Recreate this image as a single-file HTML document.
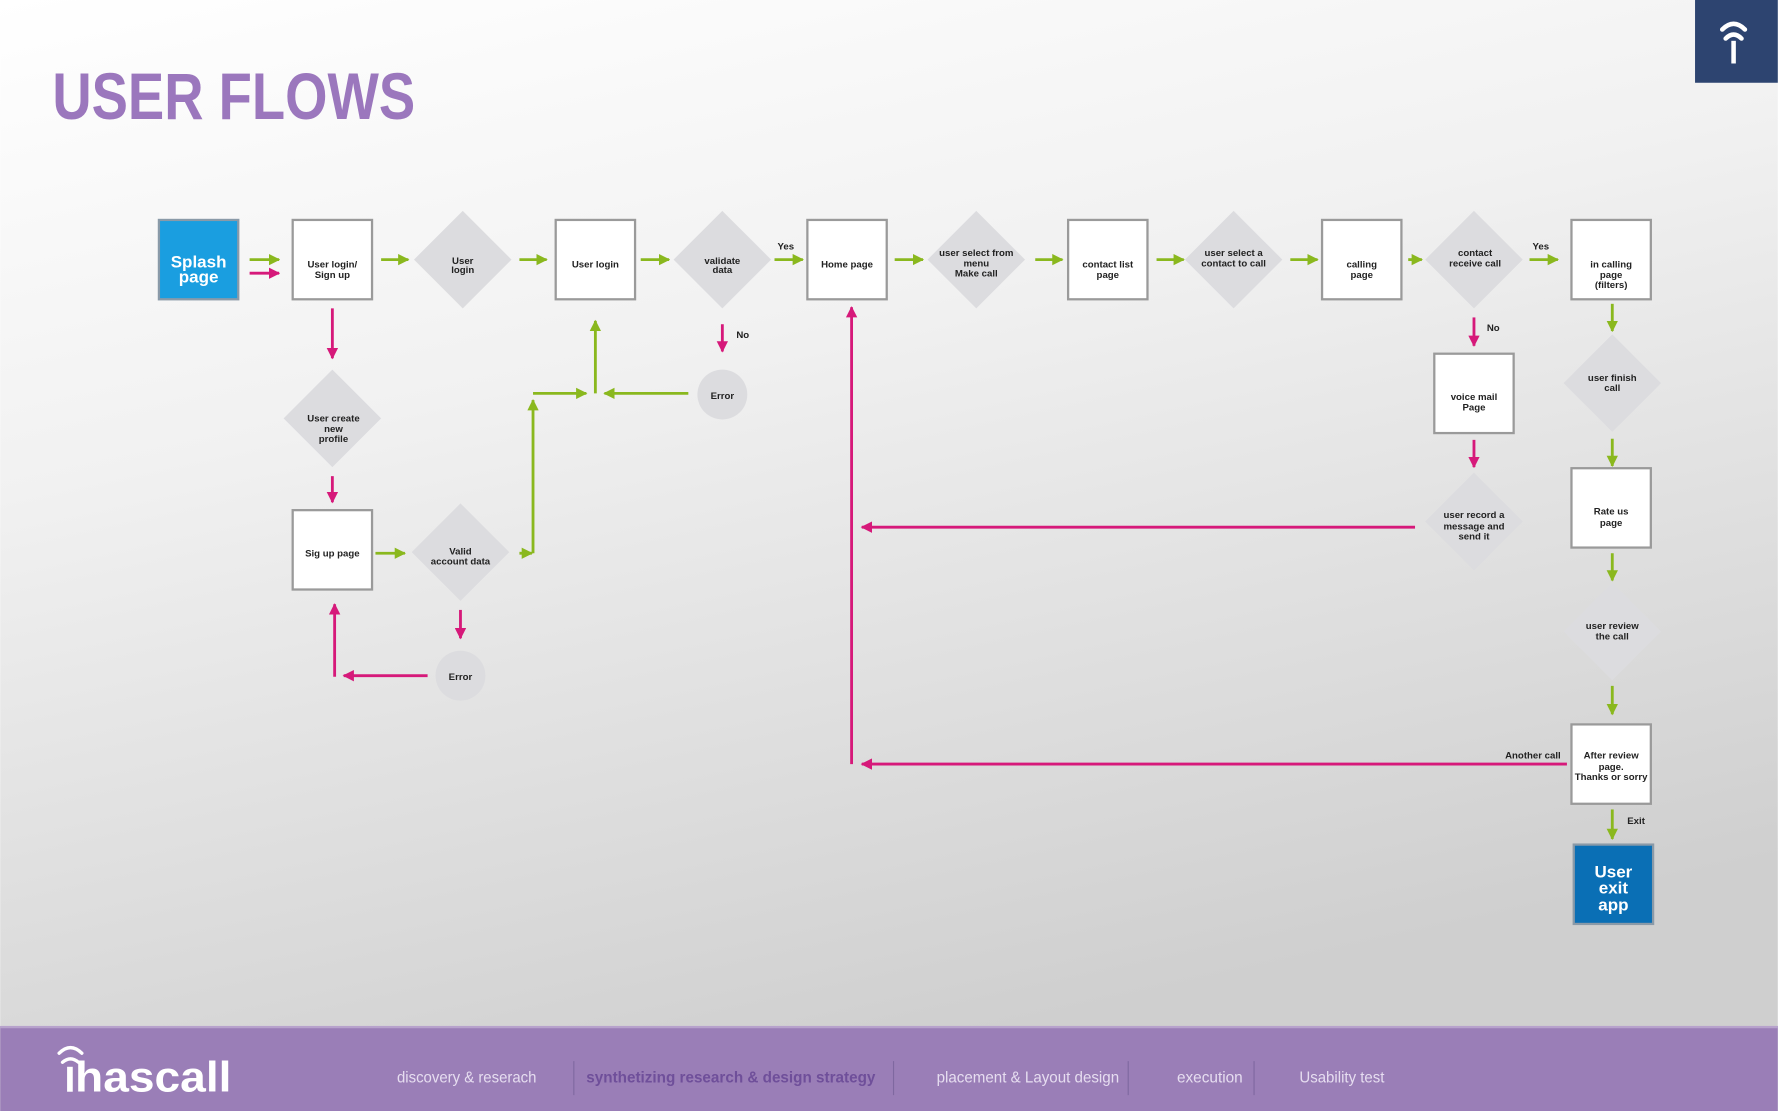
<!DOCTYPE html>
<html><head><meta charset="utf-8"><style>
html,body{margin:0;padding:0;width:1778px;height:1111px;overflow:hidden}
svg{display:block}
text{font-family:"Liberation Sans",sans-serif}
</style></head><body>
<svg width="1778" height="1111" viewBox="0 0 1568 980" xmlns="http://www.w3.org/2000/svg">
<defs>
<linearGradient id="bg" x1="0" y1="0" x2="0.35" y2="1">
<stop offset="0" stop-color="#ffffff"/><stop offset="0.4" stop-color="#f1f1f1"/><stop offset="1" stop-color="#cfcfcf"/>
</linearGradient>
<marker id="g" viewBox="0 0 10 10" refX="9" refY="5" markerWidth="4" markerHeight="4" orient="auto"><path d="M0,0L10,5L0,10z" fill="#8ab81e"/></marker>
<marker id="p" viewBox="0 0 10 10" refX="9" refY="5" markerWidth="4" markerHeight="4" orient="auto"><path d="M0,0L10,5L0,10z" fill="#d6197a"/></marker>
</defs>
<rect width="1568" height="980" fill="url(#bg)"/>
<text x="46" y="105" font-size="58" font-weight="bold" fill="#9b77bd" textLength="320" lengthAdjust="spacingAndGlyphs">USER FLOWS</text>
<rect x="1495" y="0" width="73" height="73" fill="#2d4470"/>
<g fill="none" stroke="#fff" stroke-width="4" stroke-linecap="round">
<path d="M1519,26 Q1529,16 1539,26"/><path d="M1522,34 Q1529,27 1536,34"/>
</g>
<rect x="1527" y="36" width="4" height="20" fill="#fff"/>

<!-- connectors -->
<g stroke-width="2.5" fill="none">
<g stroke="#8ab81e" marker-end="url(#g)">
<line x1="220" y1="229" x2="246" y2="229"/><line x1="336" y1="229" x2="360" y2="229"/>
<line x1="458" y1="229" x2="482" y2="229"/><line x1="565" y1="229" x2="590" y2="229"/>
<line x1="683" y1="229" x2="708" y2="229"/><line x1="789" y1="229" x2="814" y2="229"/>
<line x1="913" y1="229" x2="937" y2="229"/><line x1="1020" y1="229" x2="1044" y2="229"/>
<line x1="1138" y1="229" x2="1162" y2="229"/><line x1="1242" y1="229" x2="1254" y2="229"/>
<line x1="1349" y1="229" x2="1374" y2="229"/>
<line x1="1422" y1="268" x2="1422" y2="292"/><line x1="1422" y1="387" x2="1422" y2="411"/>
<line x1="1422" y1="488" x2="1422" y2="512"/><line x1="1422" y1="605" x2="1422" y2="630"/>
<line x1="1422" y1="714" x2="1422" y2="740"/>
<line x1="331" y1="488" x2="357" y2="488"/><line x1="458" y1="488" x2="469" y2="488"/>
<line x1="470" y1="488" x2="470" y2="353"/><line x1="470" y1="347" x2="517" y2="347"/>
<line x1="525" y1="347" x2="525" y2="283"/><line x1="607" y1="347" x2="533" y2="347"/>
</g>
<g stroke="#d6197a" marker-end="url(#p)">
<line x1="220" y1="241" x2="246" y2="241"/>
<line x1="293" y1="272" x2="293" y2="316"/><line x1="293" y1="420" x2="293" y2="443"/>
<line x1="637" y1="286" x2="637" y2="310"/><line x1="406" y1="538" x2="406" y2="563"/>
<line x1="1300" y1="280" x2="1300" y2="305"/><line x1="1300" y1="388" x2="1300" y2="412"/>
<line x1="377" y1="596" x2="303" y2="596"/><line x1="295" y1="597" x2="295" y2="533"/>
<line x1="1248" y1="465" x2="760" y2="465"/><line x1="1382" y1="674" x2="760" y2="674"/>
<line x1="751" y1="674" x2="751" y2="271"/>
</g>
</g>

<!-- boxes -->
<g fill="#fff" stroke="#9a9a9a" stroke-width="2">
<rect x="258" y="194" width="70" height="70"/><rect x="490" y="194" width="70" height="70"/>
<rect x="712" y="194" width="70" height="70"/><rect x="942" y="194" width="70" height="70"/>
<rect x="1166" y="194" width="70" height="70"/><rect x="1386" y="194" width="70" height="70"/>
<rect x="1265" y="312" width="70" height="70"/><rect x="1386" y="413" width="70" height="70"/>
<rect x="1386" y="639" width="70" height="70"/><rect x="258" y="450" width="70" height="70"/>
</g>
<rect x="140" y="194" width="70" height="70" fill="#1a9ee0" stroke="#8a9aa8" stroke-width="2"/>
<rect x="1388" y="745" width="70" height="70" fill="#0a6fb5" stroke="#8a9aa8" stroke-width="2"/>

<!-- diamonds -->
<g fill="#dcdcdf">
<path d="M408,186L451,229L408,272L365,229z"/><path d="M637,186L680,229L637,272L594,229z"/>
<path d="M861,186L904,229L861,272L818,229z"/><path d="M1088,186L1131,229L1088,272L1045,229z"/>
<path d="M1300,186L1343,229L1300,272L1257,229z"/><path d="M293,326L336,369L293,412L250,369z"/>
<path d="M406,444L449,487L406,530L363,487z"/><path d="M1422,295L1465,338L1422,381L1379,338z"/>
<path d="M1300,417L1343,460L1300,503L1257,460z"/><path d="M1422,514L1465,557L1422,600L1379,557z"/>
</g>
<circle cx="637" cy="348" r="22" fill="#dcdcdf"/><circle cx="406" cy="596" r="22" fill="#dcdcdf"/>

<!-- labels -->
<g font-size="8.5" font-weight="bold" fill="#222" text-anchor="middle">
<text x="175" y="236" font-size="15" fill="#fff">Splash</text><text x="175" y="249" font-size="15" fill="#fff">page</text>
<text x="293" y="236">User login/</text><text x="293" y="245">Sign up</text>
<text x="408" y="233">User</text><text x="408" y="241">login</text>
<text x="525" y="236">User login</text>
<text x="637" y="233">validate</text><text x="637" y="241">data</text>
<text x="747" y="236">Home page</text>
<text x="861" y="226">user select from</text><text x="861" y="235">menu</text><text x="861" y="244">Make call</text>
<text x="977" y="236">contact list</text><text x="977" y="245">page</text>
<text x="1088" y="226">user select a</text><text x="1088" y="235">contact to call</text>
<text x="1201" y="236">calling</text><text x="1201" y="245">page</text>
<text x="1301" y="226">contact</text><text x="1301" y="235">receive call</text>
<text x="1421" y="236">in calling</text><text x="1421" y="245">page</text><text x="1421" y="254">(filters)</text>
<text x="1300" y="353">voice mail</text><text x="1300" y="362">Page</text>
<text x="1422" y="336">user finish</text><text x="1422" y="345">call</text>
<text x="1300" y="457">user record a</text><text x="1300" y="467">message and</text><text x="1300" y="476">send it</text>
<text x="1421" y="454">Rate us</text><text x="1421" y="464">page</text>
<text x="1422" y="555">user review</text><text x="1422" y="564">the call</text>
<text x="1421" y="669">After review</text><text x="1421" y="679">page.</text><text x="1421" y="688">Thanks or sorry</text>
<text x="1423" y="774" font-size="15" fill="#fff">User</text><text x="1423" y="788" font-size="15" fill="#fff">exit</text><text x="1423" y="803" font-size="15" fill="#fff">app</text>
<text x="294" y="372">User create</text><text x="294" y="381">new</text><text x="294" y="390">profile</text>
<text x="293" y="491">Sig up page</text>
<text x="406" y="489">Valid</text><text x="406" y="498">account data</text>
<text x="637" y="352">Error</text><text x="406" y="600">Error</text>
<text x="693" y="220">Yes</text><text x="655" y="298">No</text><text x="1317" y="292">No</text>
<text x="1359" y="220">Yes</text><text x="1352" y="669">Another call</text><text x="1443" y="727">Exit</text>
</g>

<!-- footer -->
<rect x="0" y="905" width="1568" height="75" fill="#9a7eb7"/>
<rect x="0" y="905" width="1568" height="2" fill="#b7a2cc"/>
<g fill="none" stroke="#fff" stroke-width="3" stroke-linecap="round">
<path d="M52,929 Q62,919 72,929"/><path d="M55,937 Q62,931 69,937"/>
</g>
<rect x="59" y="941" width="5" height="22" fill="#fff"/>
<text x="66" y="963" font-size="38" font-weight="bold" fill="#fff" textLength="138" lengthAdjust="spacingAndGlyphs">hascall</text>
<g font-size="14" fill="#e6ddf0">
<text x="350" y="955" textLength="123" lengthAdjust="spacingAndGlyphs">discovery &amp; reserach</text>
<text x="517" y="955" fill="#6f4f9a" font-weight="bold" textLength="255" lengthAdjust="spacingAndGlyphs">synthetizing research &amp; design strategy</text>
<text x="826" y="955" textLength="161" lengthAdjust="spacingAndGlyphs">placement &amp; Layout design</text>
<text x="1038" y="955" textLength="58" lengthAdjust="spacingAndGlyphs">execution</text>
<text x="1146" y="955" textLength="75" lengthAdjust="spacingAndGlyphs">Usability test</text>
</g>
<g stroke="#7f68a0" stroke-width="1">
<line x1="506" y1="936" x2="506" y2="966"/><line x1="788" y1="936" x2="788" y2="966"/>
<line x1="995" y1="936" x2="995" y2="966"/><line x1="1106" y1="936" x2="1106" y2="966"/>
</g>
</svg>
</body></html>
